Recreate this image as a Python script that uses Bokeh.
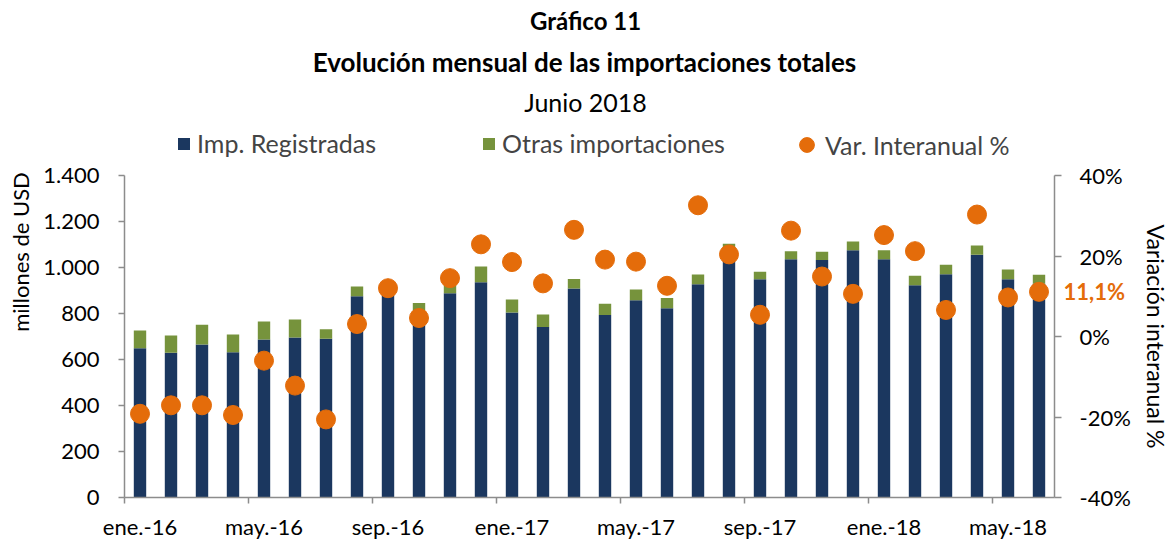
from bokeh.plotting import figure
from bokeh.layouts import column
from bokeh.models import Range1d, LinearAxis, FixedTicker, Legend, LegendItem, ColumnDataSource
from bokeh.core.properties import value
from bokeh.embed import file_html
from bokeh.resources import INLINE

months = ["ene.-16", "feb.-16", "mar.-16", "abr.-16", "may.-16", "jun.-16",
          "jul.-16", "ago.-16", "sep.-16", "oct.-16", "nov.-16", "dic.-16",
          "ene.-17", "feb.-17", "mar.-17", "abr.-17", "may.-17", "jun.-17",
          "jul.-17", "ago.-17", "sep.-17", "oct.-17", "nov.-17", "dic.-17",
          "ene.-18", "feb.-18", "mar.-18", "abr.-18", "may.-18", "jun.-18"]
registradas = [649, 629, 665, 632, 687, 696, 690, 875, 880, 810, 888, 936,
               804, 741, 909, 793, 858, 823, 927, 1081, 949, 1036, 1033, 1075,
               1036, 923, 971, 1055, 949, 929]
otras = [77, 75, 86, 77, 78, 78, 42, 42, 25, 36, 44, 68,
         57, 55, 41, 49, 46, 44, 43, 22, 32, 35, 35, 38,
         39, 41, 41, 41, 42, 39]
var_interanual = [-19.2, -17.1, -17.1, -19.5, -6.0, -12.2, -20.6, 3.1, 12.0, 4.6, 14.5, 22.9,
                  18.5, 13.2, 26.5, 19.1, 18.6, 12.6, 32.6, 20.4, 5.4, 26.3, 14.9, 10.6,
                  25.2, 21.2, 6.6, 30.3, 9.7, 11.1]
left_ticks = [0, 200, 400, 600, 800, 1000, 1200, 1400]
left_labels = ["0", "200", "400", "600", "800", "1.000", "1.200", "1.400"]
right_ticks = [-40, -20, 0, 20, 40]
right_labels = ["-40%", "-20%", "0%", "20%", "40%"]
titles = ["Gráfico 11", "Evolución mensual de las importaciones totales", "Junio 2018"]
series_names = ["Imp. Registradas", "Otras importaciones", "Var. Interanual %"]
left_axis_title = "millones de USD"
right_axis_title = "Variación interanual %"
last_label = "11,1%"

FONT = "Lato"
NAVY = "#1b375f"
GREEN = "#76933c"
ORANGE = "#e46c0a"
AXIS = "#8c8c8c"

n = len(months)
xs = list(range(n))
total = [r + o for r, o in zip(registradas, otras)]
src = ColumnDataSource(dict(x=xs, reg=registradas, tot=total, var=var_interanual))

WIDTH = 1172
TOP_H = 161
MAIN_H = 381
BL, BR = 124, 116  # left / right borders (frame edges at 124 and 1056)

# ---------------- header (titles + legend) ----------------
pt = figure(width=WIDTH, height=TOP_H, x_range=Range1d(BL, WIDTH - BR), y_range=Range1d(0, TOP_H),
            output_backend="svg", toolbar_location=None, x_axis_location=None,
            y_axis_location=None, min_border_left=BL, min_border_right=BR,
            min_border_top=0, min_border_bottom=0, title=None)
pt.grid.visible = False
pt.outline_line_color = None

pt.text(x=[586], y=[TOP_H - 20], text=titles[:1],
        text_align="center", text_baseline="middle", text_font=value(FONT),
        text_font_size="24px", text_font_style="bold", text_color="black")
pt.text(x=[585], y=[TOP_H - 61], text=titles[1:2],
        text_align="center", text_baseline="middle", text_font=value(FONT),
        text_font_size="26px", text_font_style="bold", text_color="black")
pt.text(x=[586], y=[TOP_H - 101], text=titles[2:],
        text_align="center", text_baseline="middle", text_font=value(FONT),
        text_font_size="25px", text_font_style="normal", text_color="black")

# invisible stand-ins so the legend can show the series swatches
d1 = pt.vbar(x=[0], top=[0], bottom=[0], width=0, fill_color=NAVY, line_color=None)
d2 = pt.vbar(x=[0], top=[0], bottom=[0], width=0, fill_color=GREEN, line_color=None)
d3 = pt.scatter(x=[0], y=[0], size=0, fill_color=ORANGE, line_color=ORANGE)

leg_a = Legend(items=[LegendItem(label=series_names[0], renderers=[d1]),
                      LegendItem(label=series_names[1], renderers=[d2])],
               orientation="horizontal", location=(176 - BL, 3),
               label_text_font=FONT, label_text_font_size="25px",
               glyph_width=15, glyph_height=15, label_standoff=6, spacing=105,
               padding=0, margin=0, border_line_color=None, background_fill_alpha=0)
leg_b = Legend(items=[LegendItem(label=series_names[2], renderers=[d3])],
               orientation="horizontal", location=(788 - BL, -2),
               label_text_font=FONT, label_text_font_size="25px",
               glyph_width=37, glyph_height=37, label_standoff=0,
               padding=0, margin=0, border_line_color=None, background_fill_alpha=0)
pt.add_layout(leg_a)
pt.add_layout(leg_b)

# ---------------- main chart ----------------
X0, X1 = -0.5, n - 0.5
p = figure(width=WIDTH, height=MAIN_H, x_range=Range1d(X0, X1), y_range=Range1d(0, 1400),
           output_backend="svg", toolbar_location=None, title=None,
           min_border_left=BL, min_border_right=BR, min_border_top=14, min_border_bottom=45)
p.extra_y_ranges = {"pct": Range1d(-40, 40)}
p.outline_line_color = None
p.grid.visible = False

p.vbar(x="x", bottom=0, top="reg", width=0.4, source=src, fill_color=NAVY, line_color=None)
p.vbar(x="x", bottom="reg", top="tot", width=0.4, source=src, fill_color=GREEN, line_color=None)
p.scatter(x="x", y="var", y_range_name="pct", source=src, size=19,
          fill_color=ORANGE, line_color=ORANGE)

def style_axis(ax, label_size="22px"):
    ax.axis_line_color = AXIS
    ax.axis_line_width = 1.5
    ax.major_tick_line_color = AXIS
    ax.major_tick_line_width = 1.5
    ax.minor_tick_line_color = AXIS
    ax.minor_tick_line_width = 1.5
    ax.major_label_text_font = FONT
    ax.major_label_text_font_size = "22px"
    ax.major_label_text_color = "black"
    ax.axis_label_text_font = FONT
    ax.axis_label_text_font_size = label_size
    ax.axis_label_text_font_style = "normal"
    ax.axis_label_text_color = "black"

xa = p.xaxis[0]
style_axis(xa)
xa.ticker = FixedTicker(ticks=[i for i in range(0, n, 4)],
                        minor_ticks=[i - 0.5 for i in range(0, n, 4)])
xa.major_label_overrides = {i: months[i] for i in range(0, n, 4)}
xa.major_tick_out = 0
xa.major_tick_in = 0
xa.minor_tick_out = 6
xa.minor_tick_in = 0
xa.major_label_standoff = 9

ya = p.yaxis[0]
style_axis(ya)
ya.ticker = FixedTicker(ticks=left_ticks)
ya.major_label_overrides = dict(zip(left_ticks, left_labels))
ya.major_tick_out = 6
ya.major_tick_in = 0
ya.minor_tick_out = 0
ya.minor_tick_in = 0
ya.major_label_standoff = 19
# leading no-break spaces push the (centred) title towards the top of the axis, as in the original
ya.axis_label = "\u00a0" * 30 + left_axis_title
ya.axis_label_standoff = 6

yr = LinearAxis(y_range_name="pct", ticker=FixedTicker(ticks=right_ticks))
style_axis(yr, "23px")
yr.major_label_overrides = dict(zip(right_ticks, right_labels))
yr.major_tick_out = 7
yr.major_tick_in = 0
yr.minor_tick_out = 0
yr.minor_tick_in = 0
yr.major_label_standoff = 18
yr.axis_label = right_axis_title
yr.axis_label_standoff = 8
p.add_layout(yr, "right")

# orange data label for the last month, drawn as a tick label pulled back next to the frame
yo = LinearAxis(y_range_name="pct", ticker=FixedTicker(ticks=[var_interanual[-1]]))
yo.major_label_overrides = {var_interanual[-1]: last_label}
yo.axis_line_color = None
yo.major_tick_line_color = None
yo.minor_tick_line_color = None
yo.major_tick_out = 0
yo.major_tick_in = 0
yo.minor_tick_out = 0
yo.minor_tick_in = 0
yo.major_label_text_font = FONT
yo.major_label_text_font_size = "22px"
yo.major_label_text_font_style = "bold"
yo.major_label_text_color = ORANGE
yo.major_label_standoff = -109
p.add_layout(yo, "right")

layout = column(pt, p, spacing=0)
open("out.html", "w").write(file_html(layout, INLINE))
